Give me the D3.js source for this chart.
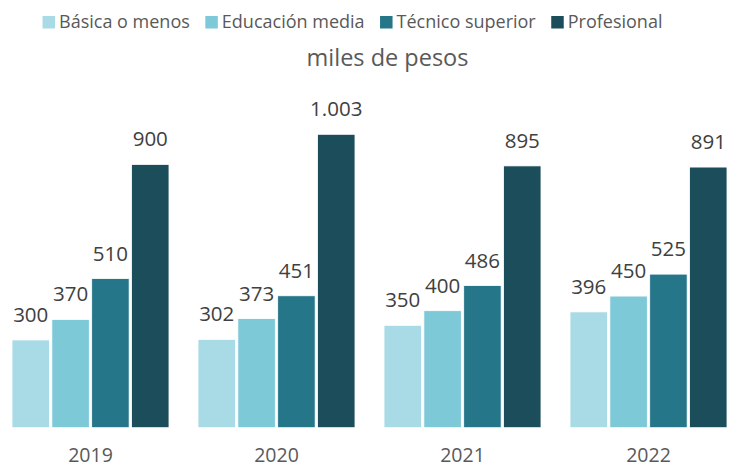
<!DOCTYPE html>
<html>
<head>
<meta charset="utf-8">
<script src="https://cdn.jsdelivr.net/npm/d3@7"></script>
<style>
  body { margin: 0; background: #fff; }
  text { font-family: "Open Sans", sans-serif; }
</style>
</head>
<body>
<div id="chart"></div>
<script>
const years = ['2019', '2020', '2021', '2022'];
const series = ['Básica o menos', 'Educación media', 'Técnico superior', 'Profesional'];
const basica = [300, 302, 350, 396];
const media = [370, 373, 400, 450];
const tecnico = [510, 451, 486, 525];
const profesional = [900, 1003, 895, 891];
const colors = ['#a9dbe6', '#7ec9d8', '#267689', '#1c4d5a'];

const values = [basica, media, tecnico, profesional];
const data = years.map((y, i) => ({
  year: y,
  vals: series.map((s, j) => ({ key: s, idx: j, value: values[j][i] }))
}));

const width = 739, height = 468;
const baseline = 427.7;

const svg = d3.select('#chart').append('svg')
  .attr('width', width).attr('height', height);

const x0 = d3.scaleBand()
  .domain(years)
  .range([12, 727])
  .paddingInner(0.156);

const x1 = d3.scaleBand()
  .domain(series)
  .range([0, x0.bandwidth()])
  .paddingInner(0.06);

const y = d3.scaleLinear()
  .domain([0, 1003])
  .range([baseline, 134.3]);

const fmt = n => d3.format(',')(n).replace(/,/g, '.');

const groups = svg.selectAll('g.year')
  .data(data)
  .join('g')
  .attr('class', 'year')
  .attr('transform', d => `translate(${x0(d.year)},0)`);

groups.selectAll('rect')
  .data(d => d.vals)
  .join('rect')
  .attr('x', d => x1(d.key))
  .attr('width', x1.bandwidth())
  .attr('y', d => y(d.value))
  .attr('height', d => baseline - y(d.value))
  .attr('fill', d => colors[d.idx])
  .attr('stroke', '#fff')
  .attr('stroke-width', 0.8);

groups.selectAll('text.val')
  .data(d => d.vals)
  .join('text')
  .attr('class', 'val')
  .attr('x', d => x1(d.key) + x1.bandwidth() / 2)
  .attr('y', d => y(d.value) - 18)
  .attr('text-anchor', 'middle')
  .attr('fill', '#404040')
  .style('font-size', '20.5px')
  .text(d => fmt(d.value));

// year axis
const xAxis = d3.axisBottom(x0).tickSize(0).tickPadding(0);
const axisG = svg.append('g')
  .attr('transform', `translate(0, ${baseline})`)
  .call(xAxis);
axisG.select('.domain').remove();
axisG.selectAll('.tick text')
  .attr('y', 34.5)
  .attr('dy', 0)
  .attr('fill', '#595959')
  .style('font-family', '"Open Sans", sans-serif')
  .style('font-size', '19.5px');

// subtitle
svg.append('text')
  .text('miles de pesos')
  .attr('x', 387.5)
  .attr('y', 65.5)
  .attr('text-anchor', 'middle')
  .attr('fill', '#595959')
  .style('font-size', '23.5px');

// legend
const legend = svg.append('g');
let lx = 0;
series.forEach((s, i) => {
  const item = legend.append('g').attr('transform', `translate(${lx},0)`);
  item.append('rect')
    .attr('x', 0).attr('y', 16)
    .attr('width', 12.5).attr('height', 12.5)
    .attr('fill', colors[i]);
  const t = item.append('text')
    .text(s)
    .attr('x', 16.5)
    .attr('y', 28)
    .attr('fill', '#595959')
    .style('font-size', '18px');
  lx += 16.5 + t.node().getComputedTextLength() + 15.5;
});
const legendW = lx - 15.5;
legend.attr('transform', `translate(${352.5 - legendW / 2},0)`);
</script>
</body>
</html>
